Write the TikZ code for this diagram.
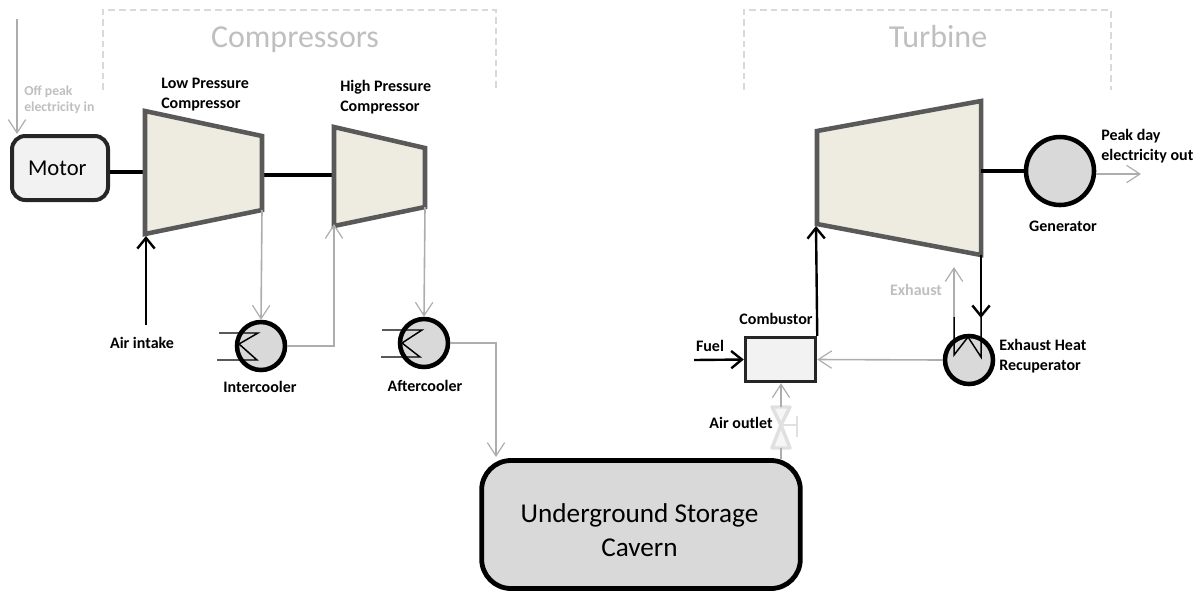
\documentclass[tikz,border=0pt]{standalone}
\usepackage{fontspec}
\setmainfont{Carlito}
\usetikzlibrary{arrows.meta}
\definecolor{gline}{HTML}{ADADAD}
\definecolor{gtext}{HTML}{BFBFBF}
\definecolor{dash}{HTML}{D9D9D9}
\definecolor{tan}{HTML}{EEECE1}
\definecolor{edge}{HTML}{595959}
\definecolor{lfill}{HTML}{F2F2F2}
\definecolor{cfill}{HTML}{D9D9D9}
\definecolor{valve}{HTML}{E0E0E0}
\tikzset{
  x=0.75pt,y=-0.75pt,
  garrow/.style={draw=gline,line width=1.2pt,-{Straight Barb[length=10pt,width=13pt,line width=0.9pt]}},
  gline/.style={draw=gline,line width=1.2pt},
  barrow/.style={draw=black,line width=1.8pt,-{Straight Barb[length=8pt,width=13pt,line width=1.8pt]}},
  shaft/.style={draw=black,line width=2.8pt},
  coil/.style={draw=black,line width=1.1pt},
  machine/.style={draw=edge,fill=tan,line width=3.4pt,line join=miter},
  round circ/.style={circle,draw=black,fill=cfill,line width=3.4pt,inner sep=0pt,minimum size=#1},
  bracket/.style={draw=dash,line width=0.8pt,dash pattern=on 5pt off 3pt},
  lab/.style={font=\fontsize{12}{15}\selectfont\bfseries,align=left,inner sep=0pt,text=black},
  glab/.style={lab,text=gtext},
  big/.style={font=\fontsize{24}{28}\selectfont,text=gtext,inner sep=0pt},
}
\begin{document}
\begin{tikzpicture}
\useasboundingbox (0,0) rectangle (1201,590);
% brackets
\coordinate (b1a) at (103,90); \coordinate (b1b) at (103,10); \coordinate (b1c) at (496,10); \coordinate (b1d) at (496,90);
\draw[bracket] (b1a) -- (b1b) -- (b1c) -- (b1d);
\coordinate (b2a) at (744,90); \coordinate (b2b) at (744,10); \coordinate (b2c) at (1111,10); \coordinate (b2d) at (1111,90);
\draw[bracket] (b2a) -- (b2b) -- (b2c) -- (b2d);
\node[big] (tcomp) at (295,39.5) {Compressors};
\node[big] (tturb) at (938,37) {Turbine};
% coordinates of machines
\coordinate (lpa) at (145,111); \coordinate (lpb) at (262,136); \coordinate (lpc) at (262,210); \coordinate (lpd) at (145,234);
\coordinate (hpa) at (334,127); \coordinate (hpb) at (425,148); \coordinate (hpc) at (425,207); \coordinate (hpd) at (334,226);
\coordinate (tua) at (817,131); \coordinate (tub) at (981,101); \coordinate (tuc) at (981,255); \coordinate (tud) at (817,224);
% motor
\node[draw=black!85,fill=lfill,line width=3pt,rounded corners=10pt,minimum width=72pt,minimum height=48pt,inner sep=0pt,font=\fontsize{17}{20}\selectfont] (motor) at (60,168) {Motor\kern4pt};
% shafts
\coordinate (lpin) at (145,172); \coordinate (lpout) at (262,175); \coordinate (hpin) at (334,175);
\draw[shaft] (motor.east |- lpin) -- (lpin);
\draw[shaft] (lpout) -- (hpin);
% off-peak
\coordinate (opstart) at (17,19);
\draw[garrow] (opstart) -- (opstart |- motor.north);
\node[glab,anchor=north west,font=\fontsize{10.3}{12}\selectfont\bfseries] (opl) at (24,86) {Off peak\\electricity in};
% machines
\draw[machine] (lpa) -- (lpb) -- (lpc) -- (lpd) -- cycle;
\draw[machine] (hpa) -- (hpb) -- (hpc) -- (hpd) -- cycle;
\node[lab,anchor=north west] (lpl) at (161,78) {Low Pressure\\Compressor};
\node[lab,anchor=north west] (hpl) at (340,80.5) {High Pressure\\Compressor};
% air intake
\coordinate (airin) at (146,325); \coordinate (airend) at (146,236);
\draw[barrow] (airin) -- (airend);
\node[lab] (airl) at (142,343) {Air intake};
% coolers
\node[round circ=36pt] (ic) at (261,346) {};
\node[round circ=36pt] (ac) at (424,343) {};
\draw[coil] (219,333) -- (258,333) -- (239,344) -- (257,360) -- (217,360);
\draw[coil] (382,330) -- (422,330) -- (402,343) -- (420,357) -- (381,357);
\node[lab] (icl) at (260,387) {Intercooler};
\node[lab] (acl) at (425,386) {Aftercooler};
\draw[garrow] (lpc) -- (ic.north);
\draw[garrow] (ic.east) -- (hpd |- ic.east) -- ([yshift=1.5pt]hpd);
\draw[garrow] (hpc) -- (ac.north);
% cavern
\node[draw=black,fill=cfill,line width=3.6pt,rounded corners=22pt,minimum width=239pt,minimum height=96pt,inner sep=0pt] (cav) at (641,524.5) {};
\node[font=\fontsize{20.4}{25.5}\selectfont,align=center,inner sep=0pt] (cavl) at (639.5,530.5) {Underground Storage\\Cavern};
\coordinate (acc) at (496,343);
\draw[garrow] (ac.east) -- (acc) -- (496,457);
% combustor
\node[draw=black!85,fill=lfill,line width=2.6pt,minimum width=52.5pt,minimum height=33pt,inner sep=0pt] (comb) at (780.5,359.5) {};
\node[lab] (combl) at (776,319) {Combustor};
% turbine
\draw[machine] (tua) -- (tub) -- (tuc) -- (tud) -- cycle;
\coordinate (tuin) at (816,226);
\draw[barrow] (comb.north east) -- (tuin);
% generator
\node[round circ=51pt] (gen) at (1060,171) {};
\node[lab] (genl) at (1063,226) {Generator};
\draw[shaft] (gen.west -| tuc) -- (gen.west);
\coordinate (genout) at (1141,174);
\draw[garrow] (gen.east |- genout) -- (genout);
\node[lab,anchor=north west] (genp) at (1101,129) {Peak day\\electricity out};
% recuperator
\node[round circ=36pt] (rec) at (969,360) {};
\draw[coil] (954,317) -- (954,355) -- (968,337) -- (981,357) -- (981,317);
\coordinate (recin) at (981,318); \coordinate (exa) at (954,317); \coordinate (exb) at (954,267);
\draw[barrow] (tuc) -- (recin);
\draw[garrow] (exa) -- (exb);
\node[glab] (exl) at (916,290) {Exhaust};
\node[lab,anchor=north west] (recl) at (999,339) {Exhaust Heat\\Recuperator};
\draw[garrow] (rec.west) -- (comb.east);
% fuel
\coordinate (fuelin) at (694,360);
\draw[barrow] (fuelin) -- (comb.west);
\node[lab] (fuell) at (710,346) {Fuel};
% valve
\coordinate (vm) at (781,425);
\draw[valve,line width=2.6pt,line join=round,fill=white!70!valve] (772,407) -- (790,407) -- (vm) -- cycle;
\draw[valve,line width=2.6pt,line join=round,fill=white!70!valve] (772,448) -- (790,448) -- (vm) -- cycle;
\draw[valve,line width=1pt] (vm) -- (797,425) (797,416) -- (797,437);
\draw[garrow] (781,407) -- (comb.south -| 781,0);
\draw[gline] (781,448) -- (781 ,459);
\node[lab] (airo) at (741,423) {Air outlet};
\end{tikzpicture}
\end{document}
